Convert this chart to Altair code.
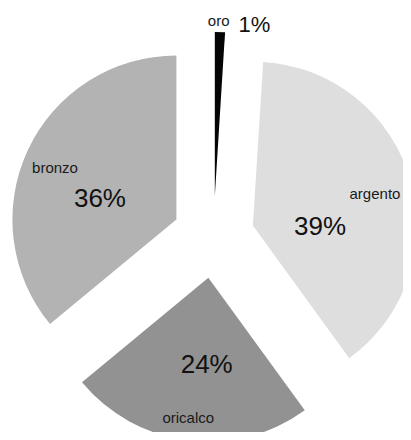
import altair as alt
import pandas as pd

# ---- data ----
names = ["oro", "argento", "oricalco", "bronzo"]
values = [1, 39, 24, 36]
colors = ["#050505", "#dedede", "#929292", "#b3b3b3"]

# ---- label layout (polar, relative to each exploded slice apex) ----
name_angle = [-0.5, 3.8, 0.7, -4.1]      # degrees offset from slice mid-angle
name_dist = [170, 125, 146.4, 130.1]      # px from slice apex
pct_angle = [11.85, 24.2, -6.2, -15.7]
pct_dist = [168.3, 67.8, 95.6, 77.5]

CX, CY = 205.5, 229   # pie centre in plot coords
R = 164               # pie radius
EXPLODE = 41          # explosion distance

df = pd.DataFrame({
    "name": names,
    "value": values,
    "order": list(range(len(names))),
    "na": name_angle,
    "nd": name_dist,
    "pa": pct_angle,
    "pd": pct_dist,
})

base = (
    alt.Chart(df)
    .transform_joinaggregate(total="sum(value)")
    .transform_window(cum="sum(value)", sort=[alt.SortField("order", order="ascending")])
    .transform_calculate(
        t1="2*PI*(datum.cum - datum.value)/datum.total",
        t2="2*PI*datum.cum/datum.total",
    )
    .transform_calculate(mid="(datum.t1 + datum.t2)/2")
    .transform_calculate(
        ax=f"{CX} + {EXPLODE}*sin(datum.mid)",
        ay=f"{CY} - {EXPLODE}*cos(datum.mid)",
        pct="format(datum.value/datum.total, '.0%')",
    )
    .transform_calculate(
        nx="datum.ax + datum.nd*sin(datum.mid + datum.na*PI/180)",
        ny="datum.ay - datum.nd*cos(datum.mid + datum.na*PI/180)",
        px="datum.ax + datum.pd*sin(datum.mid + datum.pa*PI/180)",
        py="datum.ay - datum.pd*cos(datum.mid + datum.pa*PI/180)",
    )
)

arcs = base.mark_arc(radius=R).encode(
    theta=alt.Theta("t1:Q", scale=None, stack=False),
    theta2=alt.Theta2("t2:Q"),
    x=alt.X("ax:Q", scale=None),
    y=alt.Y("ay:Q", scale=None),
    color=alt.Color("name:N", scale=alt.Scale(domain=names, range=colors), legend=None),
)

name_text = base.mark_text(
    font="Liberation Sans", fontSize=15, align="center", baseline="alphabetic", color="#1a1a1a"
).encode(
    x=alt.X("nx:Q", scale=None),
    y=alt.Y("ny:Q", scale=None),
    text="name:N",
)

pct_text = base.mark_text(
    font="Liberation Sans", align="center", baseline="alphabetic", color="#111111"
).encode(
    x=alt.X("px:Q", scale=None),
    y=alt.Y("py:Q", scale=None),
    text="pct:N",
    size=alt.condition("datum.value < 5", alt.value(22), alt.value(26)),
)

chart = (
    alt.layer(arcs, name_text, pct_text)
    .properties(width=395, height=424, padding=0, autosize="none")
    .configure_view(strokeOpacity=0)
)

chart.save("out.html", embed_options={"renderer": "svg", "actions": False})
